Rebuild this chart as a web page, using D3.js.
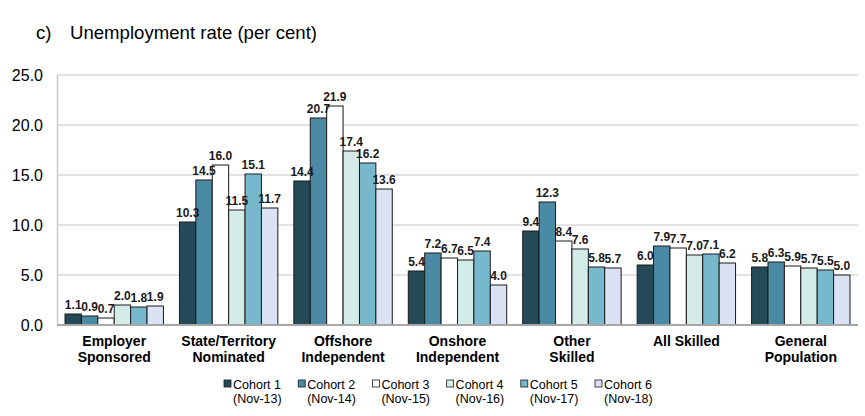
<!DOCTYPE html>
<html>
<head>
<meta charset="utf-8">
<script src="https://cdn.jsdelivr.net/npm/d3@7"></script>
<style>
  body { margin: 0; background: #fff; }
  svg { display: block; font-family: "Liberation Sans", Arial, sans-serif; }
</style>
</head>
<body>
<div id="chart"></div>
<script>
// categories (two lines each)
const categories = [
  ["Employer", "Sponsored"],
  ["State/Territory", "Nominated"],
  ["Offshore", "Independent"],
  ["Onshore", "Independent"],
  ["Other", "Skilled"],
  ["All Skilled", ""],
  ["General", "Population"]
];
const cohorts = ["Cohort 1", "Cohort 2", "Cohort 3", "Cohort 4", "Cohort 5", "Cohort 6"];
const cohortDates = ["(Nov-13)", "(Nov-14)", "(Nov-15)", "(Nov-16)", "(Nov-17)", "(Nov-18)"];
const colors = ["#234a56", "#4a8aa5", "#ffffff", "#d3ece8", "#77b8cc", "#dae2f3"];

// values per cohort, one entry per category
const cohort1 = [1.1, 10.3, 14.4, 5.4, 9.4, 6.0, 5.8];
const cohort2 = [0.9, 14.5, 20.7, 7.2, 12.3, 7.9, 6.3];
const cohort3 = [0.7, 16.0, 21.9, 6.7, 8.4, 7.7, 5.9];
const cohort4 = [2.0, 11.5, 17.4, 6.5, 7.6, 7.0, 5.7];
const cohort5 = [1.8, 15.1, 16.2, 7.4, 5.8, 7.1, 5.5];
const cohort6 = [1.9, 11.7, 13.6, 4.0, 5.7, 6.2, 5.0];
const series = [cohort1, cohort2, cohort3, cohort4, cohort5, cohort6];

const yTicks = [0, 5, 10, 15, 20, 25];

const width = 865, height = 416;
const margin = { top: 75, left: 57, bottom: 91, right: 7 };
const iwidth = width - margin.left - margin.right;
const iheight = height - margin.top - margin.bottom;

const svg = d3.select("#chart").append("svg")
  .attr("width", width).attr("height", height);

// title
svg.append("text").attr("x", 36).attr("y", 39)
  .attr("font-size", 18.6).attr("fill", "#000").text("c)");
svg.append("text").attr("x", 70).attr("y", 39)
  .attr("font-size", 18.6).attr("fill", "#000").text("Unemployment rate (per cent)");

const g = svg.append("g").attr("transform", `translate(${margin.left},${margin.top})`);

const y = d3.scaleLinear().domain([0, 25]).range([iheight, 0]);
const x0 = d3.scaleBand().domain(d3.range(categories.length)).range([0, iwidth])
  .paddingInner(0.14).paddingOuter(0.07);
const x1 = d3.scaleBand().domain(d3.range(cohorts.length)).range([0, x0.bandwidth()]).padding(0);

// gridlines
g.append("g").selectAll("line").data(yTicks.filter(d => d > 0)).join("line")
  .attr("x1", 0).attr("x2", iwidth)
  .attr("y1", d => y(d)).attr("y2", d => y(d))
  .attr("stroke", "#d9d9d9").attr("stroke-width", 1.3);

// y axis
const yAxis = g.append("g")
  .call(d3.axisLeft(y).tickValues(yTicks).tickFormat(d3.format(".1f")).tickSize(0).tickPadding(14));
yAxis.select(".domain").attr("stroke", "#c8c8c8").attr("stroke-width", 1.5);
yAxis.selectAll("text").attr("font-size", 16).attr("fill", "#000")
  .attr("font-family", "'Liberation Sans', Arial, sans-serif");

// bars
const groups = g.selectAll("g.cat").data(categories).join("g")
  .attr("class", "cat")
  .attr("transform", (d, i) => `translate(${x0(i)},0)`);

groups.each(function (c, ci) {
  const gg = d3.select(this);
  const vals = series.map((s, si) => ({ v: s[ci], si }));
  gg.selectAll("rect").data(vals).join("rect")
    .attr("x", d => x1(d.si))
    .attr("y", d => y(d.v))
    .attr("width", x1.bandwidth())
    .attr("height", d => iheight - y(d.v))
    .attr("fill", d => colors[d.si])
    .attr("stroke", "#1a1a1a").attr("stroke-width", 1);
  gg.selectAll("text.lbl").data(vals).join("text")
    .attr("class", "lbl")
    .attr("x", d => x1(d.si) + x1.bandwidth() / 2)
    .attr("y", d => y(d.v) - 5)
    .attr("text-anchor", "middle")
    .attr("font-size", 12).attr("font-weight", "bold")
    .attr("font-family", "'Liberation Sans Narrow', 'Arial Narrow', sans-serif")
    .attr("fill", "#1a1a1a")
    .text(d => d.v.toFixed(1));
});

// x axis line
g.append("line").attr("x1", 0).attr("x2", iwidth)
  .attr("y1", iheight).attr("y2", iheight)
  .attr("stroke", "#a6a6a6").attr("stroke-width", 2);

// category labels
const catLbl = g.selectAll("text.cat").data(categories).join("text")
  .attr("class", "cat")
  .attr("text-anchor", "middle")
  .attr("font-size", 14).attr("font-weight", "bold").attr("fill", "#000")
  .attr("transform", (d, i) => `translate(${x0(i) + x0.bandwidth() / 2},${iheight + 21})`);
catLbl.selectAll("tspan").data(d => d.filter(t => t)).join("tspan")
  .attr("x", 0).attr("dy", (d, i) => i === 0 ? 0 : 16).text(d => d);

// legend
const legend = svg.append("g").attr("transform", "translate(224,379)");
const items = legend.selectAll("g").data(cohorts).join("g")
  .attr("transform", (d, i) => `translate(${i * 74.2},0)`);
items.append("rect").attr("x", 0).attr("y", 1).attr("width", 7).attr("height", 7)
  .attr("fill", (d, i) => colors[i]).attr("stroke", "#1a1a1a").attr("stroke-width", 0.8);
items.append("text").attr("x", 9).attr("y", 10).attr("font-size", 12.5).attr("fill", "#000")
  .text(d => d);
items.append("text").attr("x", 9).attr("y", 24).attr("font-size", 12.5).attr("fill", "#000")
  .text((d, i) => cohortDates[i]);
</script>
</body>
</html>
